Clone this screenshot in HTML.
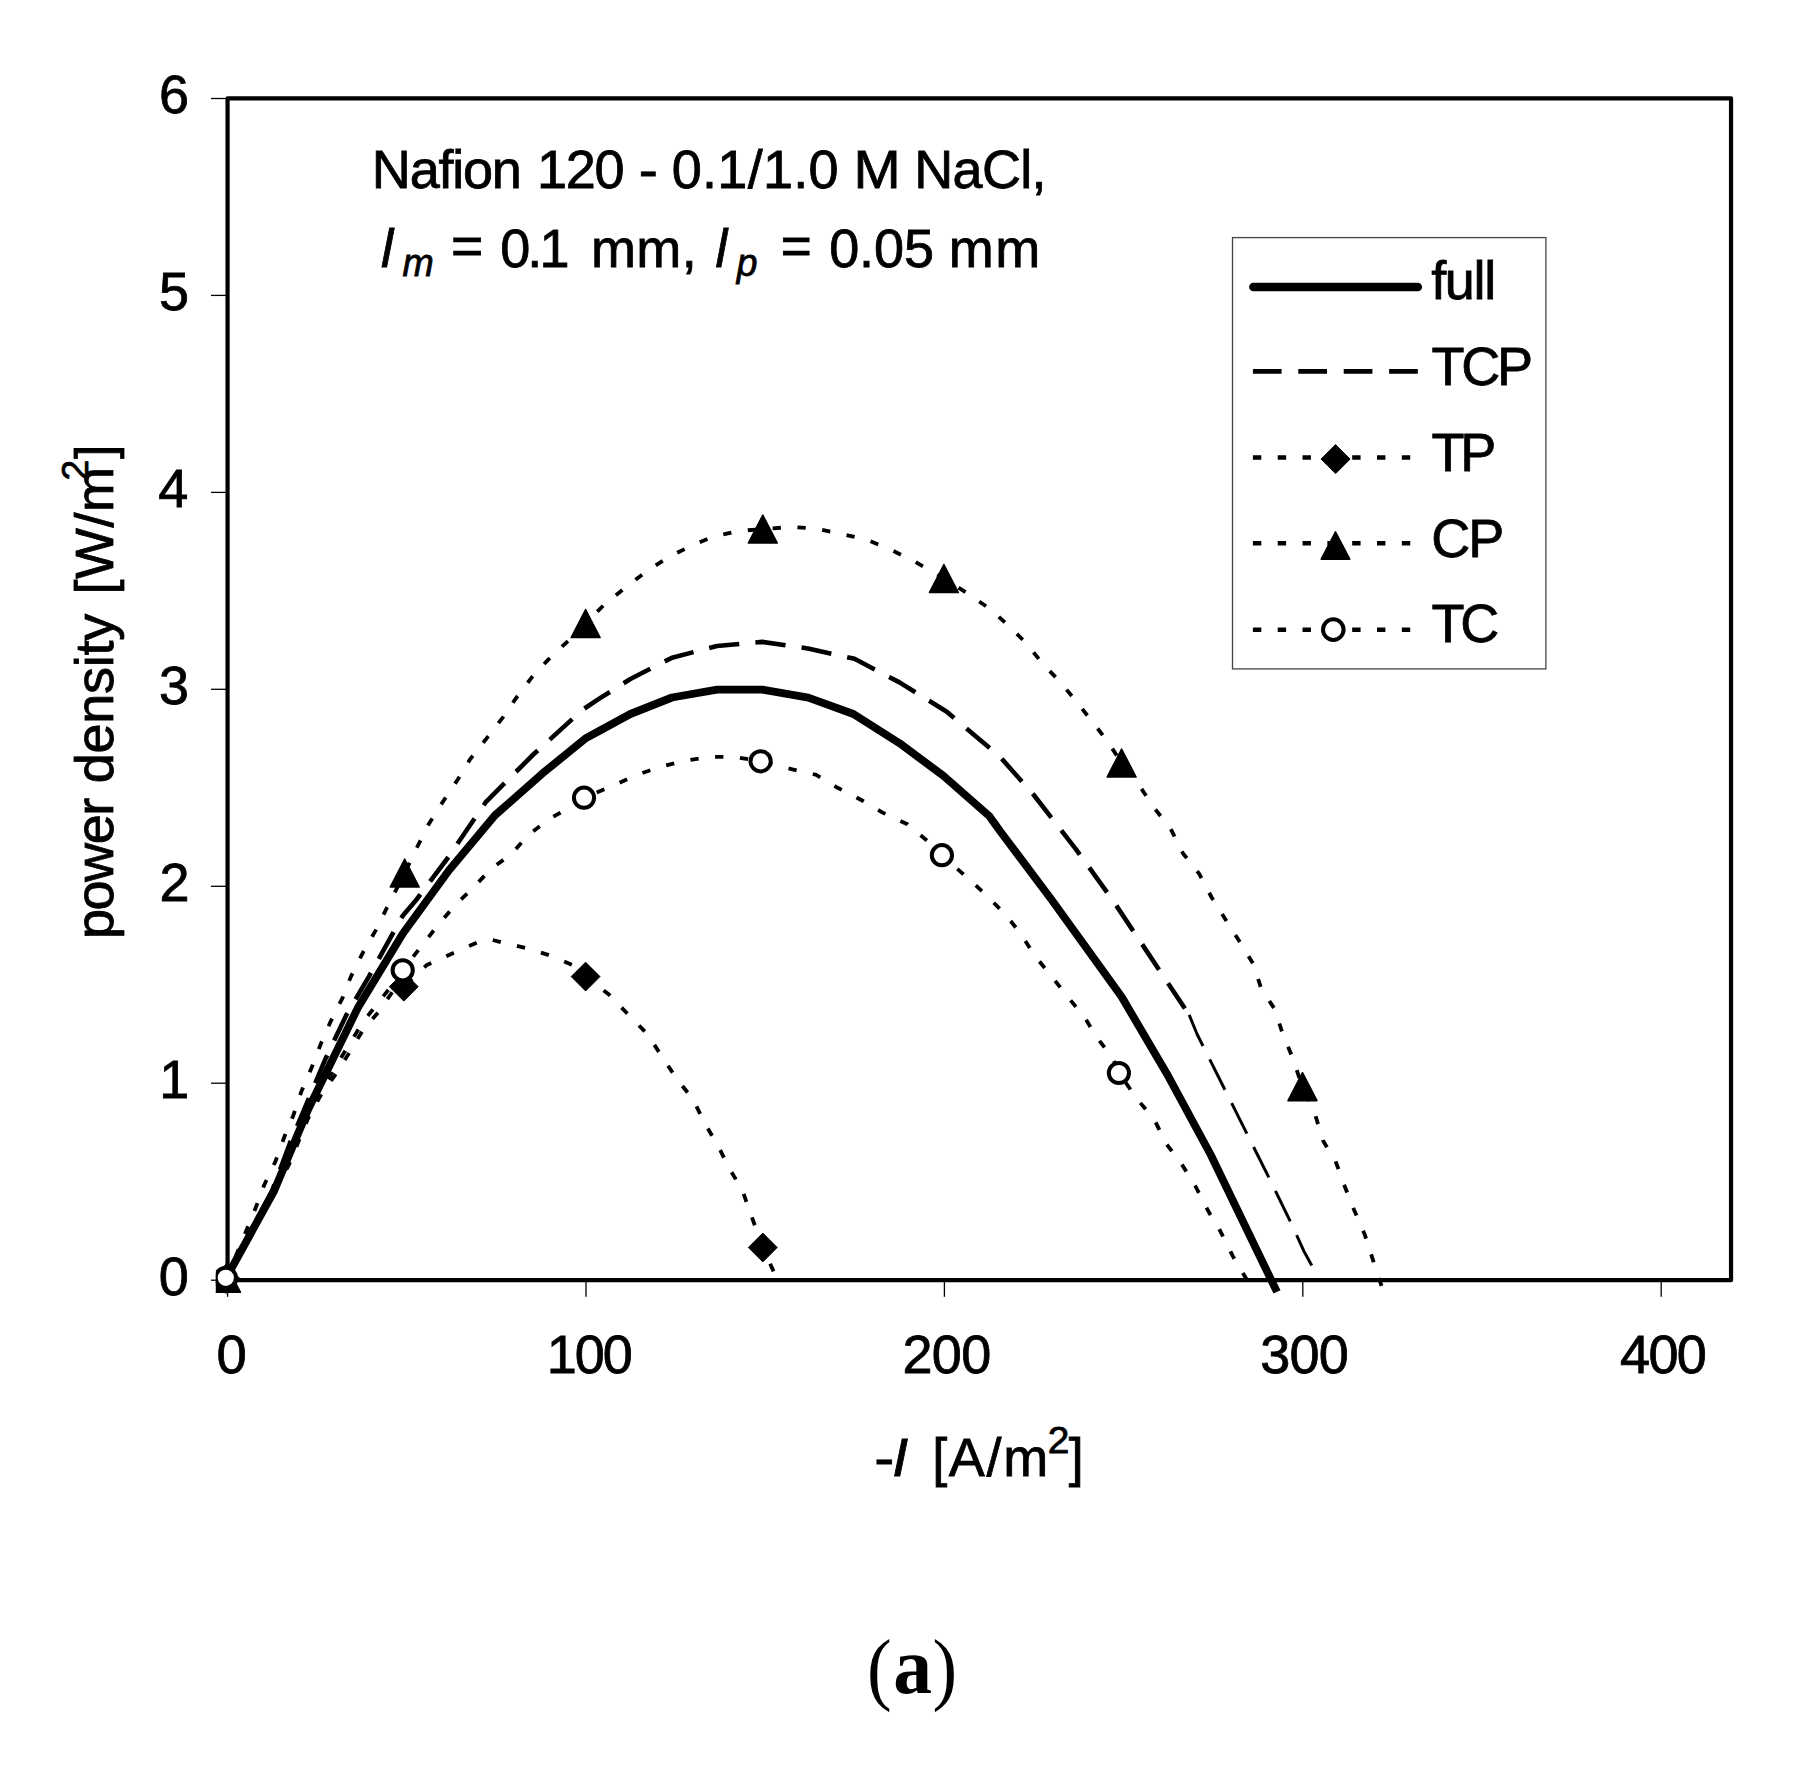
<!DOCTYPE html>
<html lang="en"><head><meta charset="utf-8"><title>Power density vs current density (a)</title>
<style>
html,body{margin:0;padding:0;background:#fff;}
body{width:1815px;height:1776px;overflow:hidden;}
svg{display:block;}
text{font-family:"Liberation Sans", Arial, Helvetica, sans-serif;fill:#000;font-kerning:none;white-space:pre;}
.cap{font-family:"Liberation Serif", "DejaVu Serif", serif;}
</style></head><body>
<svg width="1815" height="1776" viewBox="0 0 1815 1776">
<rect x="0" y="0" width="1815" height="1776" fill="#fff"/>
<g fill="none" stroke="#000" stroke-linejoin="round">
<polyline points="226.0,1278.4 289.0,1164.6 308.0,1118.5 321.6,1093.7 336.3,1073.4 349.8,1052.0 363.3,1029.5 378.0,1012.6 393.7,990.0 403.8,986.7 426.4,965.3 453.4,952.9 479.3,941.7 490.5,939.4 503.0,942.8 527.7,948.4 552.5,956.3 578.4,967.6 585.6,976.6 609.0,994.6 627.0,1013.3 647.3,1034.0 661.9,1056.5 676.6,1078.6 693.0,1099.3 705.2,1124.1 717.6,1145.0 730.0,1169.6 742.3,1190.1 750.9,1214.6 757.7,1233.3 762.8,1247.5 777.0,1279.0" stroke-width="3.8" stroke-dasharray="8.3 16.6"/>
<polyline points="226.0,1280.0 256.3,1206.3 264.2,1185.0 275.5,1161.3 284.5,1136.5 293.5,1115.0 301.4,1091.4 312.0,1066.7 321.6,1041.9 330.6,1021.6 343.0,996.8 350.9,976.6 363.3,951.8 375.7,930.4 388.0,905.6 404.7,873.0 417.3,846.8 428.6,824.3 442.1,802.9 457.9,779.3 470.3,759.0 487.2,737.6 502.9,717.3 516.4,697.7 532.2,676.8 548.0,659.9 568.2,640.8 585.6,623.5 605.6,603.2 626.6,586.7 646.2,571.6 668.0,557.4 692.8,545.0 713.3,536.7 737.8,531.1 762.8,529.0 791.4,527.0 816.2,528.6 841.0,533.8 865.8,539.4 890.5,549.5 915.3,561.9 943.9,578.5 969.4,594.6 991.9,610.4 1010.1,627.3 1026.6,643.5 1043.2,664.4 1059.2,680.9 1076.1,701.1 1092.3,721.8 1107.0,740.5 1121.6,763.0 1139.6,786.0 1154.3,808.1 1170.7,828.8 1182.9,853.2 1199.3,873.9 1211.7,897.5 1225.2,919.1 1241.0,943.9 1253.4,964.2 1261.3,989.0 1274.8,1009.2 1282.7,1034.0 1292.1,1056.5 1302.5,1087.0 1315.3,1115.1 1323.2,1141.0 1335.6,1161.3 1344.6,1186.0 1354.0,1209.7 1364.9,1234.9 1372.7,1259.2 1382.9,1290.0" stroke-width="3.8" stroke-dasharray="8.3 16.6"/>
<polyline points="226.0,1278.4 289.0,1160.0 308.0,1114.0 336.0,1066.0 363.0,1022.0 393.0,984.0 402.7,970.3 419.6,948.4 436.5,927.0 454.0,906.3 471.4,889.6 490.5,869.4 511.9,853.6 527.7,835.6 548.0,819.8 569.4,807.4 584.0,797.7 612.4,786.0 636.0,775.2 659.7,766.9 684.5,760.8 709.2,756.8 734.0,756.8 760.6,761.3 791.4,769.1 816.2,774.8 837.6,787.8 861.3,800.0 882.7,812.6 907.4,824.3 927.7,841.2 941.9,855.2 968.2,878.4 985.1,894.1 1005.6,914.6 1020.3,933.3 1034.9,955.9 1051.4,976.1 1067.6,996.8 1084.5,1017.1 1096.8,1037.4 1112.6,1057.7 1118.9,1073.0 1137.4,1099.3 1154.3,1119.6 1166.7,1144.4 1181.3,1163.5 1195.3,1186.0 1207.7,1210.1 1220.3,1231.1 1232.7,1255.9 1247.0,1280.0" stroke-width="3.8" stroke-dasharray="8.3 16.6"/>
<polyline points="226.0,1278.4 272.0,1191.0 290.0,1143.0 326.0,1057.7 346.4,1014.9 368.9,976.6 402.7,915.8 416.2,900.0 447.7,858.0 486.0,801.8 533.3,754.5 582.9,709.5 600.0,698.2 630.4,679.0 672.0,657.7 717.0,646.0 762.0,641.9 808.0,648.5 854.5,658.8 899.5,682.4 946.8,711.7 1000.0,756.8 1033.8,795.0 1076.6,850.2 1112.6,900.0 1189.2,1014.9" stroke-width="4.6" stroke-dasharray="30.4 16.2" stroke-dashoffset="18.0"/>
<polyline points="1189.2,1014.9 1197.0,1034.0 1229.7,1099.3 1270.3,1180.4 1292.8,1226.6 1304.0,1251.4 1317.6,1276.1" stroke-width="3.0" stroke-dasharray="34 15"/>
<polyline points="226.0,1278.4 274.3,1190.5 308.1,1109.5 357.7,1008.1 402.7,933.8 449.0,870.3 495.0,815.3 542.3,773.6 585.1,738.7 600.0,730.5 630.4,714.0 672.0,697.5 717.1,689.6 762.2,689.6 808.3,697.7 853.4,714.0 899.5,743.2 943.5,775.9 989.6,816.4 1000.0,831.0 1051.8,900.0 1121.6,996.8 1166.7,1073.4 1210.6,1154.5 1277.0,1291.9" stroke-width="7.8"/>
</g>
<g fill="none" stroke="#000">
<rect x="227.55" y="98.47" width="1503.49" height="1181.73" stroke-width="4.2" stroke-linejoin="round"/>
<line x1="211" y1="1280.2" x2="227.6" y2="1280.2" stroke-width="1.3"/>
<line x1="211" y1="1083.2" x2="227.6" y2="1083.2" stroke-width="1.3"/>
<line x1="211" y1="886.3" x2="227.6" y2="886.3" stroke-width="1.3"/>
<line x1="211" y1="689.3" x2="227.6" y2="689.3" stroke-width="1.3"/>
<line x1="211" y1="492.4" x2="227.6" y2="492.4" stroke-width="1.3"/>
<line x1="211" y1="295.4" x2="227.6" y2="295.4" stroke-width="1.3"/>
<line x1="211" y1="98.5" x2="227.6" y2="98.5" stroke-width="1.3"/>
<line x1="227.6" y1="1280.2" x2="227.6" y2="1296.8" stroke-width="1.3"/>
<line x1="586.0" y1="1280.2" x2="586.0" y2="1296.8" stroke-width="1.3"/>
<line x1="944.4" y1="1280.2" x2="944.4" y2="1296.8" stroke-width="1.3"/>
<line x1="1302.8" y1="1280.2" x2="1302.8" y2="1296.8" stroke-width="1.3"/>
<line x1="1661.2" y1="1280.2" x2="1661.2" y2="1296.8" stroke-width="1.3"/>
</g>
<clipPath id="mk"><rect x="215.8" y="0" width="1600" height="1776"/></clipPath>
<g clip-path="url(#mk)">
<polygon points="226.0,1264.6 240.4,1279.0 226.0,1293.4 211.6,1279.0" fill="#000" stroke="#000" stroke-width="1" stroke-linejoin="round"/>
<polygon points="403.8,972.3 418.2,986.7 403.8,1001.1 389.4,986.7" fill="#000" stroke="#000" stroke-width="1" stroke-linejoin="round"/>
<polygon points="585.6,962.2 600.0,976.6 585.6,991.0 571.2,976.6" fill="#000" stroke="#000" stroke-width="1" stroke-linejoin="round"/>
<polygon points="762.8,1233.1 777.2,1247.5 762.8,1261.9 748.4,1247.5" fill="#000" stroke="#000" stroke-width="1" stroke-linejoin="round"/>
<polygon points="226.0,1264.3 240.5,1292.3 211.5,1292.3" fill="#000" stroke="#000" stroke-width="1.5" stroke-linejoin="round"/>
<polygon points="404.7,859.0 419.2,887.0 390.2,887.0" fill="#000" stroke="#000" stroke-width="1.5" stroke-linejoin="round"/>
<polygon points="585.6,609.5 600.1,637.5 571.1,637.5" fill="#000" stroke="#000" stroke-width="1.5" stroke-linejoin="round"/>
<polygon points="762.8,515.0 777.3,543.0 748.3,543.0" fill="#000" stroke="#000" stroke-width="1.5" stroke-linejoin="round"/>
<polygon points="943.9,564.5 958.4,592.5 929.4,592.5" fill="#000" stroke="#000" stroke-width="1.5" stroke-linejoin="round"/>
<polygon points="1121.6,749.0 1136.1,777.0 1107.1,777.0" fill="#000" stroke="#000" stroke-width="1.5" stroke-linejoin="round"/>
<polygon points="1302.5,1072.7 1317.0,1100.7 1288.0,1100.7" fill="#000" stroke="#000" stroke-width="1.5" stroke-linejoin="round"/>
<circle cx="225.8" cy="1277.8" r="10.1" fill="#fff" stroke="#000" stroke-width="4"/>
<circle cx="402.7" cy="970.3" r="10.1" fill="#fff" stroke="#000" stroke-width="4"/>
<circle cx="584.0" cy="797.7" r="10.1" fill="#fff" stroke="#000" stroke-width="4"/>
<circle cx="760.6" cy="761.3" r="10.1" fill="#fff" stroke="#000" stroke-width="4"/>
<circle cx="941.9" cy="855.2" r="10.1" fill="#fff" stroke="#000" stroke-width="4"/>
<circle cx="1118.9" cy="1073.0" r="10.1" fill="#fff" stroke="#000" stroke-width="4"/>
</g>
<rect x="1232.5" y="237.6" width="313.4" height="431.3" fill="#fff" stroke="#444" stroke-width="1.3"/>
<g fill="none" stroke="#000">
<line x1="1253.4" y1="287.0" x2="1417.8" y2="287.0" stroke-width="8.6" stroke-linecap="round"/>
<line x1="1252.9" y1="371.3" x2="1418" y2="371.3" stroke-width="4.7" stroke-dasharray="28.7 16.7"/>
<line x1="1252.9" y1="457.5" x2="1411" y2="457.5" stroke-width="4.6" stroke-dasharray="8.4 16.42"/>
<line x1="1252.9" y1="543.2" x2="1411" y2="543.2" stroke-width="4.6" stroke-dasharray="8.4 16.42"/>
<line x1="1252.9" y1="629.8" x2="1411" y2="629.8" stroke-width="4.6" stroke-dasharray="8.4 16.42"/>
</g>
<polygon points="1335.6,444.6 1350.1,459.1 1335.6,473.6 1321.1,459.1" fill="#000" stroke="#000" stroke-width="1" stroke-linejoin="round"/>
<polygon points="1335.5,531.8 1349.8,559.2 1321.2,559.2" fill="#000" stroke="#000" stroke-width="1.5" stroke-linejoin="round"/>
<circle cx="1333.3" cy="629.6" r="10.3" fill="#fff" stroke="#000" stroke-width="4"/>
<text transform="translate(1431.14 298.60)" font-size="54" stroke="#000" stroke-width="0.80" letter-spacing="-1.317">full</text>
<text transform="translate(1431.59 384.70)" font-size="54" stroke="#000" stroke-width="0.80" letter-spacing="-3.270">TCP</text>
<text transform="translate(1431.59 470.60)" font-size="54" stroke="#000" stroke-width="0.80" letter-spacing="-4.242">TP</text>
<text transform="translate(1431.26 556.60)" font-size="54" stroke="#000" stroke-width="0.80" letter-spacing="-1.925">CP</text>
<text transform="translate(1431.59 642.40)" font-size="54" stroke="#000" stroke-width="0.80" letter-spacing="-4.413">TC</text>
<text transform="translate(158.78 1295.20)" font-size="54" stroke="#000" stroke-width="0.80">0</text>
<text transform="translate(159.30 1098.25)" font-size="54" stroke="#000" stroke-width="0.80">1</text>
<text transform="translate(159.38 901.29)" font-size="54" stroke="#000" stroke-width="0.80">2</text>
<text transform="translate(159.04 704.34)" font-size="54" stroke="#000" stroke-width="0.80">3</text>
<text transform="translate(158.25 507.38)" font-size="54" stroke="#000" stroke-width="0.80">4</text>
<text transform="translate(158.94 310.42)" font-size="54" stroke="#000" stroke-width="0.80">5</text>
<text transform="translate(159.04 113.47)" font-size="54" stroke="#000" stroke-width="0.80">6</text>
<text transform="translate(216.48 1373.40) scale(1.0072 1)" font-size="54" stroke="#000" stroke-width="0.80">0</text>
<text transform="translate(546.69 1373.40)" font-size="54" stroke="#000" stroke-width="0.80" letter-spacing="-1.987">100</text>
<text transform="translate(902.48 1373.40)" font-size="54" stroke="#000" stroke-width="0.80" letter-spacing="-0.686">200</text>
<text transform="translate(1260.34 1373.40)" font-size="54" stroke="#000" stroke-width="0.80" letter-spacing="-0.765">300</text>
<text transform="translate(1620.06 1373.40)" font-size="54" stroke="#000" stroke-width="0.80" letter-spacing="-1.674">400</text>
<text transform="translate(371.87 187.60)" font-size="54" stroke="#000" stroke-width="0.80" letter-spacing="-1.231">Nafion</text>
<text transform="translate(536.89 187.60)" font-size="54" stroke="#000" stroke-width="0.80" letter-spacing="-1.187">120</text>
<text transform="translate(638.65 187.60) scale(1.0619 1)" font-size="54" stroke="#000" stroke-width="0.80">-</text>
<text transform="translate(671.69 187.60)" font-size="54" stroke="#000" stroke-width="0.80" letter-spacing="0.297">0.1/1.0</text>
<text transform="translate(853.45 187.60) scale(1.0492 1)" font-size="54" stroke="#000" stroke-width="0.80">M</text>
<text transform="translate(914.17 187.60)" font-size="54" stroke="#000" stroke-width="0.80" letter-spacing="-0.661">NaCl,</text>
<text transform="translate(380.92 266.60) scale(1.0130 1)" font-size="54" font-style="italic" stroke="#000" stroke-width="0.80">l</text>
<text transform="translate(402.48 275.80) scale(0.9623 1)" font-size="39" font-style="italic" stroke="#000" stroke-width="0.80">m</text>
<text transform="translate(451.00 263.80) scale(1.0253 1)" font-size="54" stroke="#000" stroke-width="0.80">=</text>
<text transform="translate(500.19 266.60)" font-size="54" stroke="#000" stroke-width="0.80" letter-spacing="-2.861">0.1</text>
<text transform="translate(590.91 266.60)" font-size="54" stroke="#000" stroke-width="0.80" letter-spacing="0.435">mm,</text>
<text transform="translate(715.45 266.60) scale(0.9806 1)" font-size="54" font-style="italic" stroke="#000" stroke-width="0.80">l</text>
<text transform="translate(736.63 275.80) scale(0.9531 1)" font-size="39" font-style="italic" stroke="#000" stroke-width="0.80">p</text>
<text transform="translate(780.71 263.80) scale(0.9834 1)" font-size="54" stroke="#000" stroke-width="0.80">=</text>
<text transform="translate(829.19 266.60)" font-size="54" stroke="#000" stroke-width="0.80" letter-spacing="-0.108">0.05</text>
<text transform="translate(948.71 266.60)" font-size="54" stroke="#000" stroke-width="0.80" letter-spacing="1.681">mm</text>
<text transform="translate(874.22 1476.00) scale(1.1150 1)" font-size="54" stroke="#000" stroke-width="0.80">-</text>
<text transform="translate(892.24 1476.00) scale(1.0603 1)" font-size="54" font-style="italic" stroke="#000" stroke-width="0.80">I</text>
<text transform="translate(932.15 1476.00)" font-size="54" stroke="#000" stroke-width="0.80" letter-spacing="1.701">[A/m</text>
<text transform="translate(1047.85 1452.80) scale(1.0501 1)" font-size="37" stroke="#000" stroke-width="0.80">2</text>
<text transform="translate(1068.68 1476.00) scale(0.9971 1)" font-size="54" stroke="#000" stroke-width="0.80">]</text>
<text transform="translate(113.00 939.08) rotate(-90)" font-size="54" stroke="#000" stroke-width="0.80" letter-spacing="-1.450">power</text>
<text transform="translate(113.00 783.37) rotate(-90)" font-size="54" stroke="#000" stroke-width="0.80" letter-spacing="-0.254">density</text>
<text transform="translate(113.00 594.55) rotate(-90)" font-size="54" stroke="#000" stroke-width="0.80" letter-spacing="0.551">[W/m</text>
<text transform="translate(88.20 480.38) rotate(-90) scale(1.0085 1)" font-size="37" stroke="#000" stroke-width="0.80">2</text>
<text transform="translate(113.00 459.00) rotate(-90) scale(0.9412 1)" font-size="54" stroke="#000" stroke-width="0.80">]</text>
<text transform="translate(867.05 1695.00) scale(0.9201 1)" font-size="80.4" class="cap">(</text>
<text transform="translate(893.30 1693.40) scale(0.9693 1)" font-size="80" class="cap" font-weight="bold">a</text>
<text transform="translate(932.52 1695.00) scale(0.9201 1)" font-size="80.4" class="cap">)</text>
</svg>
</body></html>
